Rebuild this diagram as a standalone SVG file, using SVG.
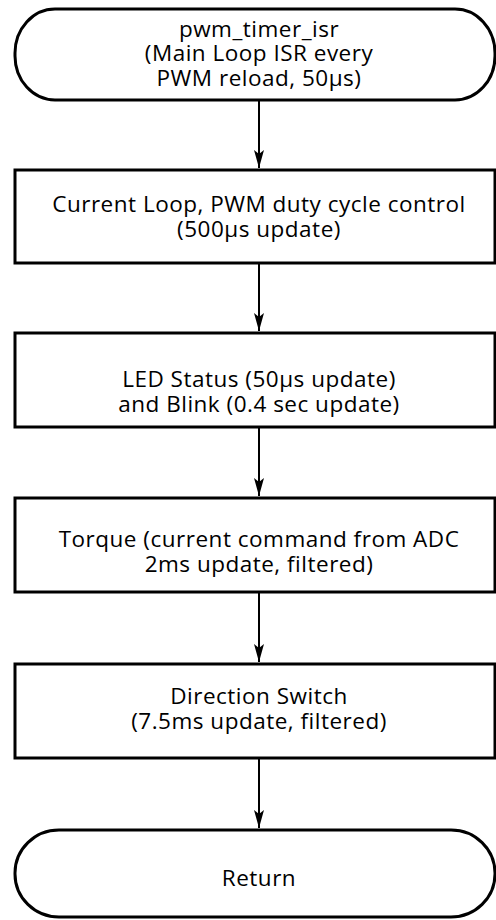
<svg xmlns="http://www.w3.org/2000/svg" width="496" height="920" viewBox="0 0 496 920">
<defs>
<marker id="arr" viewBox="0 0 18 10" refX="18" refY="5" markerWidth="18" markerHeight="10" markerUnits="userSpaceOnUse" orient="auto">
<path d="M0,0 L4,5 L0,10 L18,5 Z" fill="#000"/>
</marker>
<style>
.box{fill:#fff;stroke:#000;stroke-width:3}
.t{font-family:"Open Sans","Liberation Sans",Arial,sans-serif;font-size:22.5px;letter-spacing:0.5px;fill:#000;text-anchor:middle}
.c{stroke:#000;stroke-width:2;fill:none}
</style>
</defs>
<rect width="496" height="920" fill="#fff"/>
<g id="connectors">
<line class="c" x1="259" y1="100" x2="259" y2="168" marker-end="url(#arr)"/>
<line class="c" x1="259" y1="263" x2="259" y2="331" marker-end="url(#arr)"/>
<line class="c" x1="259" y1="427" x2="259" y2="496" marker-end="url(#arr)"/>
<line class="c" x1="259" y1="592" x2="259" y2="662" marker-end="url(#arr)"/>
<line class="c" x1="259" y1="758" x2="259" y2="828" marker-end="url(#arr)"/>
</g>
<g id="start">
<rect class="box" x="15" y="9" width="480" height="91" rx="40" ry="44"/>
<text class="t" x="259" y="37">pwm_timer_isr</text>
<text class="t" x="259" y="61">(Main Loop ISR every</text>
<text class="t" x="259" y="86">PWM reload, 50µs)</text>
</g>
<g id="current_loop">
<rect class="box" x="15" y="170" width="480" height="93"/>
<text class="t" x="259" y="212">Current Loop, PWM duty cycle control</text>
<text class="t" x="259" y="237">(500µs update)</text>
</g>
<g id="led_status">
<rect class="box" x="15" y="333" width="480" height="94"/>
<text class="t" x="259" y="387">LED Status (50µs update)</text>
<text class="t" x="259" y="412">and Blink (0.4 sec update)</text>
</g>
<g id="torque">
<rect class="box" x="15" y="498" width="480" height="94"/>
<text class="t" x="259" y="547">Torque (current command from ADC</text>
<text class="t" x="259" y="572">2ms update, filtered)</text>
</g>
<g id="direction">
<rect class="box" x="15" y="664" width="480" height="94"/>
<text class="t" x="259" y="704">Direction Switch</text>
<text class="t" x="259" y="729">(7.5ms update, filtered)</text>
</g>
<g id="return">
<rect class="box" x="15" y="830" width="480" height="87" rx="44" ry="43"/>
<text class="t" x="259" y="886">Return</text>
</g>
</svg>
